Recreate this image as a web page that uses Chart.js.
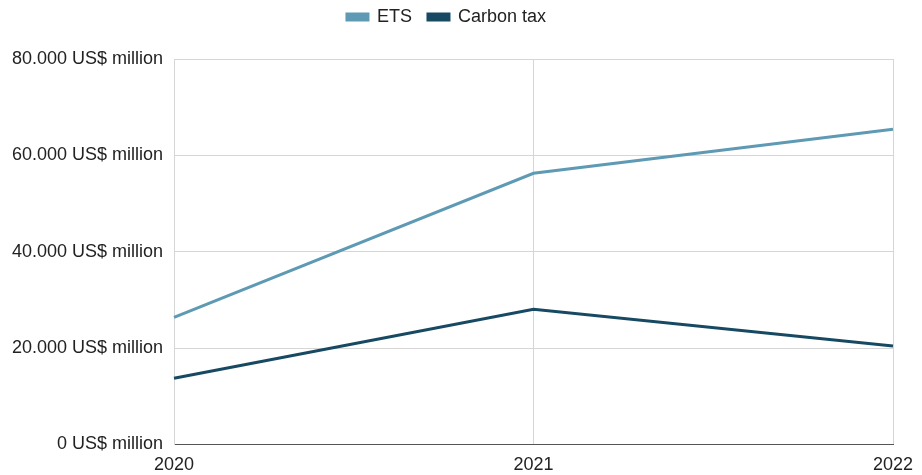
<!DOCTYPE html>
<html>
<head>
<meta charset="utf-8">
<script src="https://cdn.jsdelivr.net/npm/chart.js@4/dist/chart.umd.min.js"></script>
<style>
  html, body { margin: 0; padding: 0; background: #fff; }
  #wrap { width: 922px; height: 475px; position: relative; }
</style>
</head>
<body>
<div id="wrap"><canvas id="chart"></canvas></div>
<script>
// --- DATA ---
const years = ['2020', '2021', '2022'];
const etsValues = [26400, 56280, 65400];
const carbonTaxValues = [13740, 28060, 20440];
const yTicks = [0, 20000, 40000, 60000, 80000];

const etsColor = '#5f9ab4';
const taxColor = '#174a62';
const fontFamily = 'Liberation Sans, Arial, sans-serif';

function formatMillions(v) {
    // dot as thousands separator, as in the source chart
    return String(v).replace(/\B(?=(\d{3})+(?!\d))/g, '.') + ' US$ million';
}

// keep the legend short at the top but leave room above the plot
const legendSpacing = {
    id: 'legendSpacing',
    beforeInit(chart) {
        const origFit = chart.legend.fit;
        chart.legend.fit = function () {
            origFit.bind(chart.legend)();
            this.height = 67;
        };
    }
};

const ctx = document.getElementById('chart').getContext('2d');
new Chart(ctx, {
    type: 'line',
    data: {
        labels: years,
        datasets: [
            {
                label: 'ETS',
                data: etsValues,
                borderColor: etsColor,
                backgroundColor: etsColor,
                borderWidth: 3,
                pointRadius: 0,
                tension: 0
            },
            {
                label: 'Carbon tax',
                data: carbonTaxValues,
                borderColor: taxColor,
                backgroundColor: taxColor,
                borderWidth: 3,
                pointRadius: 0,
                tension: 0
            }
        ]
    },
    plugins: [legendSpacing],
    options: {
        responsive: true,
        maintainAspectRatio: false,
        animation: false,
        layout: { padding: { left: 0, right: 29, top: -8, bottom: 0 } },
        plugins: {
            legend: {
                position: 'top',
                labels: {
                    boxWidth: 21,
                    boxHeight: 6,
                    padding: 16,
                    color: '#222',
                    font: { family: fontFamily, size: 18 }
                }
            },
            tooltip: { enabled: false }
        },
        scales: {
            x: {
                afterFit: function (axis) {
                    axis.height = 30.5;
                    axis.paddingRight = 0;
                    axis.paddingLeft = 0;
                },
                grid: { color: '#d6d6d6', lineWidth: 1, drawTicks: false },
                border: { color: '#555', width: 1 },
                ticks: {
                    color: '#222',
                    padding: 10,
                    maxRotation: 0,
                    font: { family: fontFamily, size: 18 }
                }
            },
            y: {
                min: 0,
                max: 80000,
                afterBuildTicks: function (axis) {
                    axis.ticks = yTicks.map(v => ({ value: v }));
                },
                afterFit: function (axis) { axis.width = 174; },
                grid: { color: '#d6d6d6', lineWidth: 1, drawTicks: false },
                border: { color: '#d6d6d6', width: 1 },
                ticks: {
                    color: '#222',
                    padding: 11,
                    callback: function (value) { return formatMillions(value); },
                    font: { family: fontFamily, size: 18 }
                }
            }
        }
    }
});
</script>
</body>
</html>
